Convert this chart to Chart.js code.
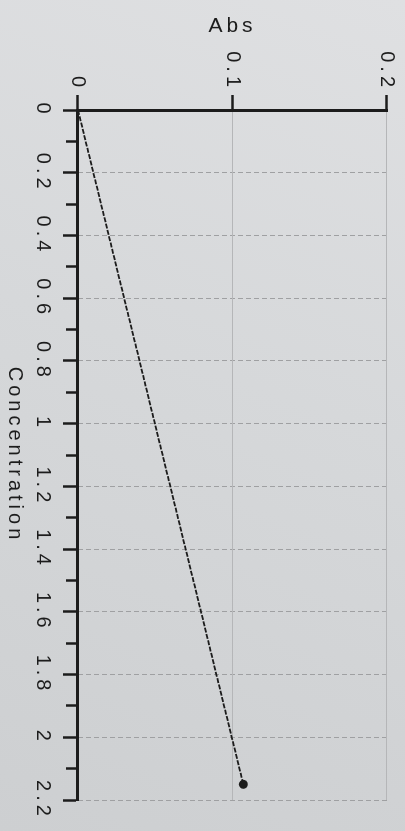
<!DOCTYPE html>
<html>
<head>
<meta charset="utf-8">
<style>
  html, body { margin: 0; padding: 0; overflow: hidden; }
  body { width: 405px; height: 831px; background: linear-gradient(200deg, #dfe0e2 0%, #d6d8da 45%, #cdcfd1 100%); }
  /* the printout was photographed sideways, so the whole chart is turned 90deg */
  #wrap { position: absolute; left: 0; top: 0; width: 831px; height: 405px;
          transform-origin: 0 0; transform: translateX(405px) rotate(90deg); }
</style>
</head>
<body>
<div id="wrap">
  <canvas id="myChart" width="831" height="405"></canvas>
</div>

<script src="https://cdn.jsdelivr.net/npm/chart.js"></script>
<script>
// data
const concentration = [0, 2.15];
const absorbance = [0, 0.107];
const pointSizes = [0, 4.5];

// axis ranges
const concMin = 0, concMax = 2.2, concStep = 0.1;
const absMin = 0, absMax = 0.2, absStep = 0.1;

const ink = '#1c1c1c';
const gridGrey = '#9fa0a2';

// printer font looks stretched, so spread the letters a bit
const spacing = {
  id: 'spacing',
  beforeUpdate(chart) { chart.ctx.letterSpacing = '4px'; },
  beforeDraw(chart) { chart.ctx.letterSpacing = '4px'; }
};

const data = {
  datasets: [{
    data: concentration.map((c, i) => ({ x: c, y: absorbance[i] })),
    borderColor: ink,
    borderWidth: 1.8,
    borderDash: [5, 1.5],
    backgroundColor: ink,
    pointRadius: pointSizes,
    pointBackgroundColor: ink,
    pointBorderWidth: 0,
    tension: 0
  }]
};

const config = {
  type: 'line',
  data,
  plugins: [spacing],
  options: {
    responsive: false,
    animation: false,
    layout: { padding: { top: 18, right: 31, left: 0, bottom: 0 } },
    plugins: { legend: { display: false }, tooltip: { enabled: false } },
    scales: {
      x: {
        type: 'linear',
        min: concMin,
        max: concMax,
        afterFit: s => { s.height = 78; },
        ticks: {
          stepSize: concStep,
          autoSkip: false,
          maxRotation: 0,
          padding: 8,
          color: ink,
          font: { family: 'Liberation Sans', size: 20 },
          callback: (v, i) => i % 2 === 0 ? String(Number(v.toFixed(1))) : ''
        },
        grid: {
          color: c => c.index % 2 === 0 ? gridGrey : 'rgba(0,0,0,0)',
          lineWidth: 1,
          tickLength: 15,
          tickWidth: 2.5,
          tickColor: ink,
          tickBorderDash: c => c.index % 2 === 0 ? [] : [10, 40]
        },
        border: { color: ink, width: 3, dash: [5, 3] },
        title: {
          display: true,
          text: 'Concentration',
          color: ink,
          font: { family: 'Liberation Sans', size: 20 },
          padding: { top: 0, bottom: 3 }
        }
      },
      y: {
        min: absMin,
        max: absMax,
        afterFit: s => { s.width = 110; },
        ticks: {
          stepSize: absStep,
          padding: 4,
          color: ink,
          font: { family: 'Liberation Sans', size: 20 }
        },
        grid: {
          color: '#b5b6b8',
          lineWidth: 1,
          tickLength: 15,
          tickWidth: 2.5,
          tickColor: ink
        },
        border: { color: ink, width: 3 },
        title: {
          display: true,
          text: 'Abs',
          color: ink,
          font: { family: 'Liberation Sans', size: 21 },
          padding: { top: 14, bottom: 0 }
        }
      }
    }
  }
};

const myChart = new Chart(document.getElementById('myChart'), config);
</script>
</body>
</html>
